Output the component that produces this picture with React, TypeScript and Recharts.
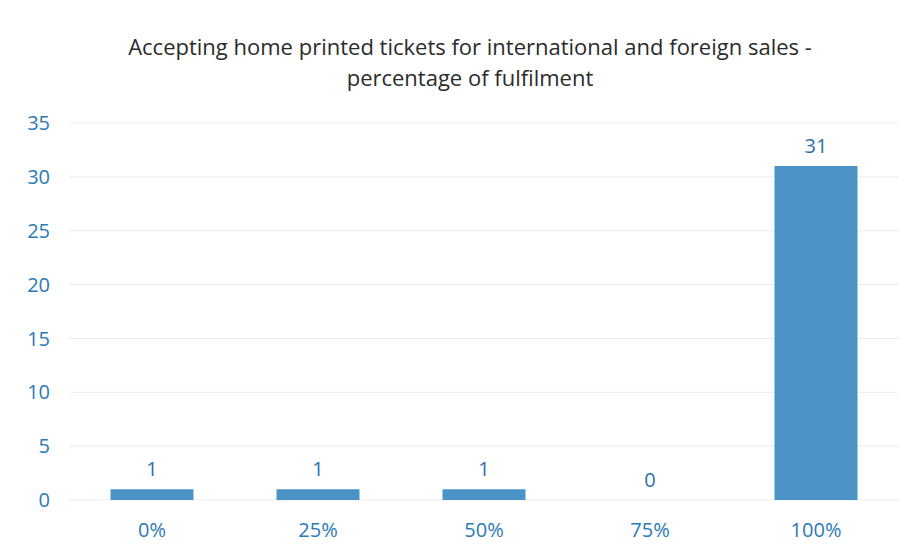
import { Bar, CartesianGrid, ComposedChart, LabelList, Line, XAxis, YAxis } from "recharts";

const categories = ["0%", "25%", "50%", "75%", "100%"];
const counts = [1, 1, 1, 0, 31];
const yTicks = [0, 5, 10, 15, 20, 25, 30, 35];
const titleLines = [
    "Accepting home printed tickets for international and foreign sales -",
    "percentage of fulfilment",
];

const data = categories.map((c, i) => ({ category: c, count: counts[i] }));

const FONT = "'Open Sans', 'Liberation Sans', sans-serif";

export default function App() {
    return (
        <div style={{ position: "absolute", left: 0, top: 0, width: 920, height: 555, background: "#fff" }}>
            <div
                style={{
                    position: "absolute",
                    left: 0,
                    top: 31,
                    width: 940,
                    textAlign: "center",
                    fontFamily: FONT,
                    fontSize: 22,
                    lineHeight: "31px",
                    color: "#2b2b2b",
                }}
            >
                {titleLines.map((t) => (
                    <div key={t}>{t}</div>
                ))}
            </div>
            <ComposedChart
                width={920}
                height={555}
                data={data}
                margin={{ top: 123, right: 21, bottom: 25, left: 19 }}
                barCategoryGap="25%"
            >
                <CartesianGrid vertical={false} stroke="#ececec" />
                <XAxis
                    dataKey="category"
                    axisLine={false}
                    tickLine={false}
                    tickSize={0}
                    tickMargin={23}
                    tick={{ fill: "#2a7ab8", fontSize: 20, fontFamily: FONT }}
                />
                <YAxis
                    domain={[0, 35]}
                    ticks={yTicks}
                    width={50}
                    axisLine={false}
                    tickLine={false}
                    tickSize={0}
                    tickMargin={19}
                    tick={{ fill: "#2a7ab8", fontSize: 20, fontFamily: FONT }}
                />
                <Bar dataKey="count" fill="#4b93c7" isAnimationActive={false} />
                {/* invisible series only to carry the value labels (bar labels skip zero-height bars) */}
                <Line
                    dataKey="count"
                    stroke="none"
                    dot={false}
                    activeDot={false}
                    isAnimationActive={false}
                >
                    <LabelList
                        dataKey="count"
                        position="top"
                        offset={13}
                        style={{ fill: "#2c71aa", fontSize: 20, fontFamily: FONT }}
                    />
                </Line>
            </ComposedChart>
        </div>
    );
}
